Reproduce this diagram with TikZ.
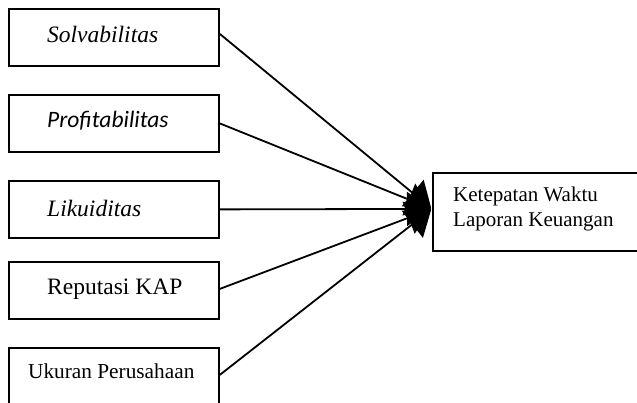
\documentclass[tikz,border=0pt]{standalone}
\usepackage{fontspec}
\setmainfont{Liberation Serif}
\newfontfamily\carlito{Carlito}
\usetikzlibrary{arrows.meta}
\begin{document}
\begin{tikzpicture}[x=1pt,y=-1pt,
  box/.style={draw=black, line width=1.8pt, minimum width=210pt, minimum height=57pt, inner sep=0pt, anchor=north west},
  lbl/.style={anchor=west, inner sep=0pt, font=\fontsize{23.5}{26}\selectfont},
  arr/.style={line width=1.8pt, -{Triangle[length=24pt,width=34pt]}, shorten >=1pt}]
\useasboundingbox (0,0) rectangle (637,403);
\clip (0,0) rectangle (637,403);
\node[box] (b1) at (8,8) {};
\node[box] (b2) at (8,94) {};
\node[box] (b3) at (8,180) {};
\node[box] (b4) at (8,261) {};
\node[box, minimum height=64pt] (b5) at (8,347) {};
\node[box, minimum width=215pt, minimum height=78pt] (rb) at (432,172) {};
\node[lbl] (t1) at (47,34) {\itshape Solvabilitas};
\node[lbl] (t2) at (47,121) {\carlito\itshape Profitabilitas};
\node[lbl] (t3) at (47,208) {\itshape Likuiditas};
\node[lbl] (t4) at (47,289) {Reputasi KAP};
\node[lbl, font=\fontsize{21.3}{24}\selectfont] (t5) at (28,371) {Ukuran Perusahaan};
\node[anchor=north west, inner sep=0pt, align=left, font=\fontsize{21}{25}\selectfont] (t6) at (453,187) {Ketepatan Waktu\\Laporan Keuangan};
\coordinate (tip) at ([yshift=3pt]rb.west);
\draw[arr] ([yshift=3.5pt]b1.east) -- (tip);
\draw[arr] ([yshift=0pt]b2.east) -- (tip);
\draw[arr] ([yshift=0pt]b3.east) -- (tip);
\draw[arr] ([yshift=1.5pt]b4.east) -- (tip);
\draw[arr] ([yshift=5pt]b5.east) -- (tip);
\end{tikzpicture}
\end{document}
